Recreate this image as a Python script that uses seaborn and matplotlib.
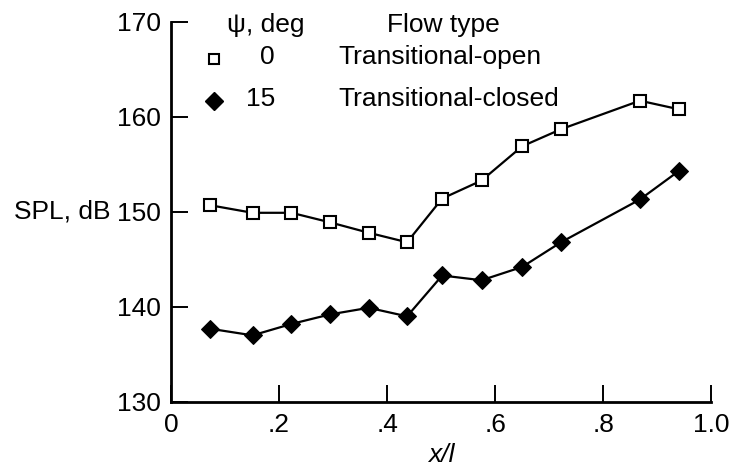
import matplotlib
matplotlib.use("Agg")
import matplotlib.pyplot as plt
import seaborn as sns
import pandas as pd

# Données
x_pos = [0.072, 0.151, 0.223, 0.294, 0.366, 0.437, 0.502, 0.575, 0.650, 0.722, 0.868, 0.940]
spl_open = [150.7, 149.9, 149.9, 148.9, 147.8, 146.8, 151.4, 153.3, 156.9, 158.7, 161.7, 160.8]
spl_closed = [137.7, 137.0, 138.2, 139.2, 139.9, 139.0, 143.3, 142.8, 144.2, 146.8, 151.3, 154.3]

psi_labels = ["0", "15"]
flow_labels = ["Transitional-open", "Transitional-closed"]
x_ticks = [0, 0.2, 0.4, 0.6, 0.8, 1.0]
x_ticklabels = ["0", ".2", ".4", ".6", ".8", "1.0"]
y_ticks = [130, 140, 150, 160, 170]

FS = 19

sns.set_style("ticks")
plt.rcParams['font.family'] = ['Liberation Sans', 'DejaVu Sans']
plt.rcParams['font.size'] = FS
plt.rcParams['text.color'] = 'black'
plt.rcParams['axes.labelcolor'] = 'black'
plt.rcParams['xtick.color'] = 'black'
plt.rcParams['ytick.color'] = 'black'

df = pd.DataFrame({'x': x_pos + x_pos,
                   'spl': spl_open + spl_closed,
                   'flow': [flow_labels[0]] * len(x_pos) + [flow_labels[1]] * len(x_pos)})

fig = plt.figure(figsize=(7.37, 4.75), dpi=100)
ax = fig.add_axes([0.232, 0.154, 0.733, 0.800])

# Courbe ouverte (carrés vides)
sns.lineplot(data=df[df['flow'] == flow_labels[0]], x='x', y='spl', ax=ax,
             color='black', lw=1.6, marker='s', markersize=8.5,
             markerfacecolor='white', markeredgecolor='black', markeredgewidth=1.5,
             legend=False)
# Courbe fermée (losanges pleins)
sns.lineplot(data=df[df['flow'] == flow_labels[1]], x='x', y='spl', ax=ax,
             color='black', lw=1.6, marker='D', markersize=9,
             markerfacecolor='black', markeredgecolor='black',
             legend=False)

ax.set_xlim(0, 1.0)
ax.set_ylim(130, 170)
ax.set_xticks(x_ticks)
ax.set_xticklabels(x_ticklabels)
ax.set_yticks(y_ticks)
ax.tick_params(direction='in', length=12, width=1.4, colors='black', labelsize=FS)
ax.tick_params(axis='y', pad=7)
ax.tick_params(axis='x', pad=8)
sns.despine(ax=ax)
for s in ['left', 'bottom']:
    ax.spines[s].set_linewidth(2.0)
    ax.spines[s].set_color('black')

ax.set_xlabel('x/l', fontstyle='italic', fontsize=FS, labelpad=4)
ax.set_ylabel('SPL, dB', rotation=0, fontsize=FS, ha='right', va='center')
ax.yaxis.set_label_coords(-0.112, 0.5)

# Légende dessinée à la main (deux colonnes de texte)
def ax_pt(px, py):
    return ((px - 171) / 540, (402 - py) / 380)

tr = ax.transAxes
hx, hy = ax_pt(266, 25)
ax.text(hx, hy, 'ψ, deg', transform=tr, ha='center', va='center', fontsize=FS)
fx, fy = ax_pt(443, 25)
ax.text(fx, fy, 'Flow type', transform=tr, ha='center', va='center', fontsize=FS)

rows_y = [59, 101]
styles = [dict(marker='s', markersize=7.5, markerfacecolor='white', markeredgecolor='black', markeredgewidth=1.5),
          dict(marker='D', markersize=9, markerfacecolor='black', markeredgecolor='black')]
for ry, st, psi, flow in zip(rows_y, styles, psi_labels, flow_labels):
    mx, my = ax_pt(214, ry)
    ax.plot([mx], [my], transform=tr, clip_on=False, linestyle='none', **st)
    nx, ny = ax_pt(275, ry - 2)
    ax.text(nx, ny, psi, transform=tr, ha='right', va='center', fontsize=FS)
    tx, ty = ax_pt(338, ry - 2)
    ax.text(tx, ty, flow, transform=tr, ha='left', va='center', fontsize=FS)

plt.savefig('out.png', dpi=100)
plt.close()
